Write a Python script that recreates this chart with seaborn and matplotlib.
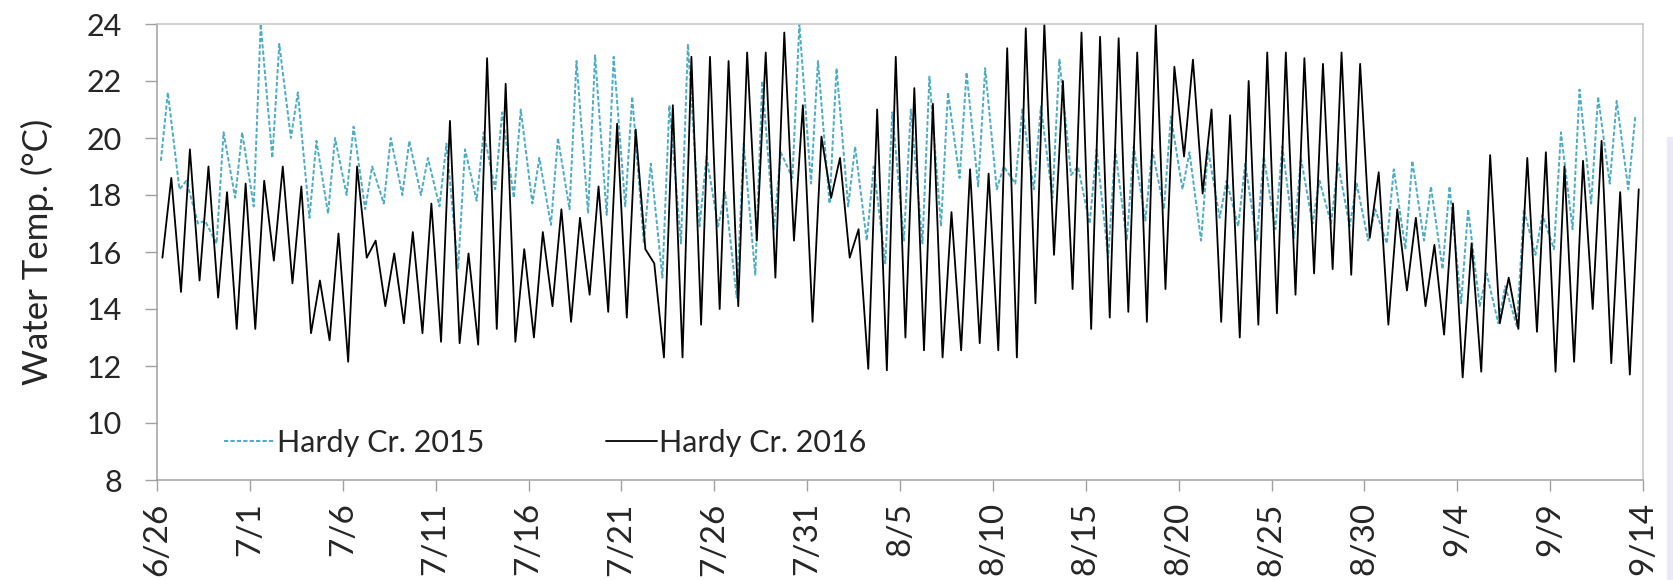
import numpy as np
import pandas as pd
import matplotlib
matplotlib.use("Agg")
import matplotlib.pyplot as plt
import seaborn as sns
from matplotlib.patches import Rectangle

# daily lows / highs (day 0 = 6/26)
hardy_2015_min = [19.2, 18.2, 17.0, 16.3, 17.9, 17.6, 19.3, 20.0, 17.2, 17.35,
                  18.0, 17.5, 17.7, 18.0, 18.0, 17.6, 15.4, 17.8, 18.2, 17.9,
                  17.7, 16.95, 17.5, 17.35, 17.3, 17.6, 16.3, 15.1, 16.3, 16.9,
                  16.9, 14.4, 15.2, 16.8, 18.6, 18.4, 17.7, 17.6, 16.4, 15.6,
                  16.4, 16.3, 16.9, 18.6, 18.3, 18.2, 18.4, 18.2, 17.9, 18.7,
                  17.0, 15.8, 16.4, 17.1, 17.5, 18.2, 16.4, 17.2, 16.9, 16.4,
                  16.8, 16.5, 17.0, 17.0, 16.9, 16.4, 16.3, 16.1, 16.4, 15.4,
                  14.2, 14.1, 13.5, 13.4, 15.9, 16.1, 16.8, 17.7, 18.4, 18.2]
hardy_2015_max = [21.6, 18.5, 17.1, 20.2, 20.2, 24.0, 23.3, 21.6, 19.9, 20.0,
                  20.4, 19.0, 20.0, 19.9, 19.3, 19.8, 19.6, 20.2, 20.9, 21.0,
                  19.3, 20.0, 22.7, 22.9, 22.85, 21.45, 19.1, 21.15, 23.3, 19.35,
                  18.1, 19.8, 22.0, 19.5, 24.0, 22.7, 22.45, 19.7, 19.0, 20.9,
                  21.0, 22.15, 21.6, 22.3, 22.45, 19.0, 21.0, 21.1, 22.75, 19.0,
                  19.6, 19.6, 19.7, 19.6, 20.75, 19.5, 19.6, 18.5, 19.1, 19.35,
                  19.7, 19.3, 18.5, 19.1, 18.4, 17.5, 18.9, 19.2, 18.3, 18.3,
                  17.5, 15.25, 14.8, 17.5, 17.3, 20.2, 21.7, 21.45, 21.3, 20.75]

hardy_2016_min = [15.8, 14.6, 15.0, 14.4, 13.3, 13.3, 15.7, 14.9, 13.15, 12.9,
                  12.15, 15.8, 14.1, 13.5, 13.15, 12.85, 12.8, 12.75, 13.3, 12.85,
                  13.0, 14.1, 13.55, 14.5, 13.9, 13.7, 16.1, 12.3, 12.3, 13.45,
                  14.0, 14.1, 16.4, 15.1, 16.4, 13.55, 17.9, 15.8, 11.9, 11.85,
                  13.0, 12.55, 12.3, 12.55, 12.8, 12.55, 12.3, 14.2, 15.9, 14.7,
                  13.3, 13.7, 13.9, 13.55, 14.7, 19.35, 18.05, 13.55, 13.0, 13.45,
                  13.85, 14.5, 15.25, 15.4, 15.2, 16.5, 13.45, 14.65, 14.1, 13.1,
                  11.6, 11.8, 13.5, 13.3, 13.2, 11.8, 12.15, 14.0, 12.1, 11.7]
hardy_2016_max = [18.6, 19.6, 19.0, 18.1, 18.4, 18.5, 19.0, 18.3, 15.0, 16.65,
                  19.0, 16.4, 15.95, 16.7, 17.7, 20.6, 15.95, 22.8, 21.9, 16.1,
                  16.7, 17.5, 17.2, 18.3, 20.5, 20.3, 15.6, 21.15, 22.85, 22.85,
                  22.7, 23.0, 23.0, 23.7, 21.15, 20.05, 19.3, 16.8, 21.0, 22.85,
                  21.75, 21.2, 17.4, 18.9, 18.75, 23.15, 23.85, 24.0, 22.0, 23.7,
                  23.55, 23.5, 23.0, 24.0, 22.5, 22.75, 21.0, 20.8, 22.0, 23.0,
                  23.0, 22.8, 22.6, 23.0, 22.6, 18.8, 17.5, 17.2, 16.25, 17.7,
                  16.3, 19.4, 15.1, 19.3, 19.5, 19.0, 19.2, 19.9, 18.1, 18.2]

tick_labels = ["6/26", "7/1", "7/6", "7/11", "7/16", "7/21", "7/26", "7/31",
               "8/5", "8/10", "8/15", "8/20", "8/25", "8/30", "9/4", "9/9", "9/14"]


def daily_frame(lows, highs, low_hour, high_hour):
    rows = []
    for d, (lo, hi) in enumerate(zip(lows, highs)):
        rows.append((d + low_hour / 24, lo))
        rows.append((d + high_hour / 24, hi))
    return pd.DataFrame(rows, columns=["day", "temp"])


df15 = daily_frame(hardy_2015_min, hardy_2015_max, 5, 14)
df16 = daily_frame(hardy_2016_min, hardy_2016_max, 7, 18.5)

sns.set_style("white")
plt.rcParams["font.family"] = ["Lato", "DejaVu Sans"]
TXT = "#262626"

fig = plt.figure(figsize=(16.73, 5.8), dpi=100)
ax = fig.add_axes([157 / 1673, 100 / 580, 1486 / 1673, 456 / 580])

# faint strip on the right edge of the original image
fig.patches.append(Rectangle((1667 / 1673, 0), 6 / 1673, 443 / 580,
                             transform=fig.transFigure, color="#ECE9F6", zorder=0))

sns.lineplot(data=df15, x="day", y="temp", ax=ax, estimator=None, sort=False,
             color="#4BACC6", lw=1.4, linestyle=(0, (2.2, 1.1)), label="Hardy Cr. 2015")
sns.lineplot(data=df16, x="day", y="temp", ax=ax, estimator=None, sort=False,
             color="black", lw=1.3, label="Hardy Cr. 2016")

ax.set_xlim(0, 80)
ax.set_ylim(8, 24)
ax.set_xticks(np.arange(0, 81, 5))
ax.set_xticklabels(tick_labels, rotation=90)
ax.set_yticks(np.arange(8, 25, 2))
ax.set_xlabel("")
ax.set_ylabel("Water Temp. (°C)", fontsize=25, color=TXT, labelpad=24)

ax.tick_params(axis="y", labelsize=22, length=9, width=1,
               pad=16, labelcolor=TXT, left=True)
ax.tick_params(axis="x", labelsize=24, length=8, width=1,
               pad=8, labelcolor=TXT, bottom=True)
ax.tick_params(axis="both", which="both", color="#A0A0A0")
for side in ["left", "bottom"]:
    ax.spines[side].set_color("#A0A0A0")
    ax.spines[side].set_linewidth(1.1)
for side in ["top", "right"]:
    ax.spines[side].set_color("#C4C4C4")
    ax.spines[side].set_linewidth(1.1)

ax.legend(loc="center left", bbox_to_anchor=(0.045, 0.081), ncol=2, frameon=False,
          fontsize=22, handlelength=1.65, handletextpad=0.08, columnspacing=4.0,
          borderpad=0, borderaxespad=0, labelcolor=TXT)

fig.savefig("out.png", dpi=100, facecolor="white")
